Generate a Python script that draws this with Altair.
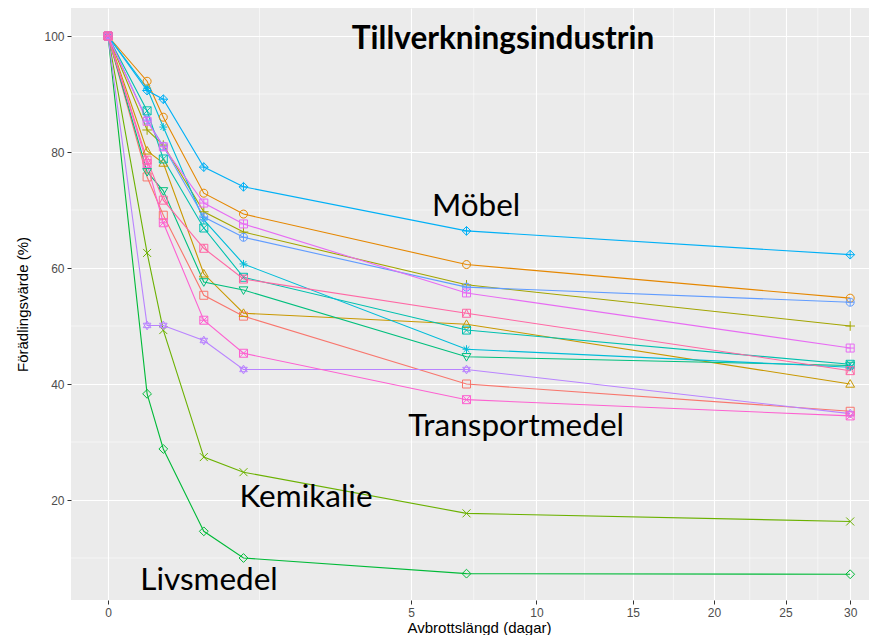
import altair as alt
import pandas as pd

# x values: interruption length in days (2 h, 4 h, 12 h, 1 d, 7 d, 30 d)
days = [0, 1/12, 1/6, 0.5, 1, 7, 30]

sectors = [
    "Dryck", "Elektro", "Gummi & plast", "Jord & sten", "Kemikalie",
    "Livsmedel", "Läkemedel", "Maskin", "Metall", "Möbel",
    "Papper", "Petroleum", "Textil", "Transportmedel", "Trä",
]

s_dryck = [100, 75.7, 69.1, 55.3, 51.7, 40.0, 35.3]
s_elektro = [100, 92.2, 86.0, 72.9, 69.3, 60.6, 54.8]
s_gummi = [100, 80.2, 78.1, 59.0, 52.2, 50.3, 40.0]
s_jord = [100, 83.8, 81.2, 69.7, 66.2, 57.1, 50.0]
s_kemikalie = [100, 62.6, 49.3, 27.4, 24.8, 17.7, 16.3]
s_livsmedel = [100, 38.3, 28.8, 14.6, 10.0, 7.3, 7.2]
s_lakemedel = [100, 76.6, 73.3, 57.6, 56.2, 44.7, 43.2]
s_maskin = [100, 87.1, 78.8, 66.9, 58.4, 49.3, 43.4]
s_metall = [100, 91.0, 84.3, 68.3, 60.7, 46.0, 42.9]
s_mobel = [100, 90.6, 89.1, 77.4, 74.0, 66.4, 62.3]
s_papper = [100, 85.5, 81.0, 68.8, 65.3, 56.7, 54.1]
s_petroleum = [100, 50.1, 50.1, 47.5, 42.5, 42.5, 34.9]
s_textil = [100, 85.3, 80.9, 71.2, 67.6, 55.7, 46.2]
s_transport = [100, 78.0, 67.8, 51.0, 45.3, 37.3, 34.5]
s_tra = [100, 78.6, 71.7, 63.4, 58.1, 52.2, 42.3]

series = [s_dryck, s_elektro, s_gummi, s_jord, s_kemikalie, s_livsmedel,
          s_lakemedel, s_maskin, s_metall, s_mobel, s_papper, s_petroleum,
          s_textil, s_transport, s_tra]

x_ticks = [0, 5, 10, 15, 20, 25, 30]
x_minor = [1.25, 7.285, 12.37, 17.41, 22.43, 27.44]
y_ticks = [20, 40, 60, 80, 100]
y_minor = [10, 30, 50, 70, 90]

ann_labels = ["Möbel", "Transportmedel", "Kemikalie", "Livsmedel"]
ann_x = [7.38, 9.07, 2.135, 0.556]
ann_y = [70.5, 32.6, 20.3, 6.0]
title_text = ["Tillverkningsindustrin"]
title_x = [8.5]
title_y = [99.3]

colors = ["#F8766D", "#E58700", "#C99800", "#A3A500", "#6BB100",
          "#00BA38", "#00BF7D", "#00C0AF", "#00BCD8", "#00B0F6",
          "#619CFF", "#B983FF", "#E76BF3", "#FD61D1", "#FF67A4"]

SQ = "M-1,-1H1V1H-1Z"
CI = "M-1,0A1,1,0,1,0,1,0A1,1,0,1,0,-1,0Z"
PL = "M-1,0H1M0,-1V1"
XX = "M-1,-1L1,1M-1,1L1,-1"
XS = "M-0.72,-0.72L0.72,0.72M-0.72,0.72L0.72,-0.72"
DI = "M0,-1.1L1.1,0L0,1.1L-1.1,0Z"
shapes = [
    SQ,
    CI,
    "M0,-1.1L1.1,0.8H-1.1Z",
    "M-1.2,0H1.2M0,-1.2V1.2",
    XX,
    DI,
    "M0,1.1L1.1,-0.8H-1.1Z",
    SQ + XX,
    PL + XS,
    DI + "M-1.1,0H1.1M0,-1.1V1.1",
    CI + PL,
    "M0,-1.1L0.95,0.55H-0.95Z M0,1.1L0.95,-0.55H-0.95Z",
    SQ + PL,
    SQ + XX + "M-1,0H1",
    SQ + "M-1,1L0,-1L1,1",
]

rows = []
for name, vals in zip(sectors, series):
    for d, v in zip(days, vals):
        rows.append({"sektor": name, "dagar": d, "varde": v})
df = pd.DataFrame(rows)

xscale = alt.Scale(type="sqrt", domain=[-0.0745, 31.54], nice=False, zero=False)
yscale = alt.Scale(domain=[2.76, 104.83], nice=False, zero=False)
cscale = alt.Scale(domain=sectors, range=colors)
sscale = alt.Scale(domain=sectors, range=shapes)

AXF = "Liberation Sans"

xaxis = alt.Axis(
    values=x_ticks, format="d", title="Avbrottslängd (dagar)",
    domain=False, grid=True, gridColor="white", gridWidth=1.1,
    tickColor="#333333", tickSize=4, tickWidth=1,
    labelFont=AXF, labelFontSize=12, labelColor="#4D4D4D", labelPadding=3,
    titleFont=AXF, titleFontSize=15, titleFontWeight="normal", titleColor="black",
    titleX=408, titleY=27, titleBaseline="middle",
)
yaxis = alt.Axis(
    values=y_ticks, format="d", title="Förädlingsvärde (%)",
    domain=False, grid=True, gridColor="white", gridWidth=1.1,
    tickColor="#333333", tickSize=4, tickWidth=1,
    labelFont=AXF, labelFontSize=12, labelColor="#4D4D4D", labelPadding=3,
    titleFont=AXF, titleFontSize=15, titleFontWeight="normal", titleColor="black",
    titleX=-49, titleY=296, titleBaseline="middle", titleAngle=-90,
)

base = alt.Chart(df)

xminor_df = pd.DataFrame({"v": x_minor})
yminor_df = pd.DataFrame({"v": y_minor})

minor_x = alt.Chart(xminor_df).mark_rule(color="white", strokeWidth=0.55).encode(
    x=alt.X("v:Q", scale=xscale, axis=xaxis)
)
minor_y = alt.Chart(yminor_df).mark_rule(color="white", strokeWidth=0.55).encode(
    y=alt.Y("v:Q", scale=yscale, axis=yaxis)
)

lines = base.mark_line(strokeWidth=1.1).encode(
    x=alt.X("dagar:Q", scale=xscale, axis=xaxis),
    y=alt.Y("varde:Q", scale=yscale, axis=yaxis),
    color=alt.Color("sektor:N", scale=cscale, legend=None),
    detail="sektor:N",
)
points = base.mark_point(filled=False, size=64, strokeWidth=1, opacity=1).encode(
    x=alt.X("dagar:Q", scale=xscale, axis=xaxis),
    y=alt.Y("varde:Q", scale=yscale, axis=yaxis),
    color=alt.Color("sektor:N", scale=cscale, legend=None),
    shape=alt.Shape("sektor:N", scale=sscale, legend=None),
)

ann_df = pd.DataFrame({"t": ann_labels, "x": ann_x, "y": ann_y})
ann = alt.Chart(ann_df).mark_text(
    font="Lato", fontSize=31.5, color="black", align="center", baseline="middle"
).encode(
    x=alt.X("x:Q", scale=xscale, axis=xaxis),
    y=alt.Y("y:Q", scale=yscale, axis=yaxis),
    text="t:N",
)
ttl_df = pd.DataFrame({"t": title_text, "x": title_x, "y": title_y})
ttl = alt.Chart(ttl_df).mark_text(
    font="Lato", fontSize=31.5, fontWeight="bold", color="black",
    align="center", baseline="middle"
).encode(
    x=alt.X("x:Q", scale=xscale, axis=xaxis),
    y=alt.Y("y:Q", scale=yscale, axis=yaxis),
    text="t:N",
)

chart = alt.layer(minor_x, minor_y, lines, points, ann, ttl).resolve_scale(
    color="shared", shape="shared"
).properties(
    width=798, height=592,
    autosize=alt.AutoSizeParams(type="none"),
    padding={"left": 63, "top": 0, "right": 0, "bottom": 35},
    background="white",
).configure_view(fill="#EBEBEB", stroke=None)

chart.save("out.html", embed_options={"renderer": "svg", "actions": False})
